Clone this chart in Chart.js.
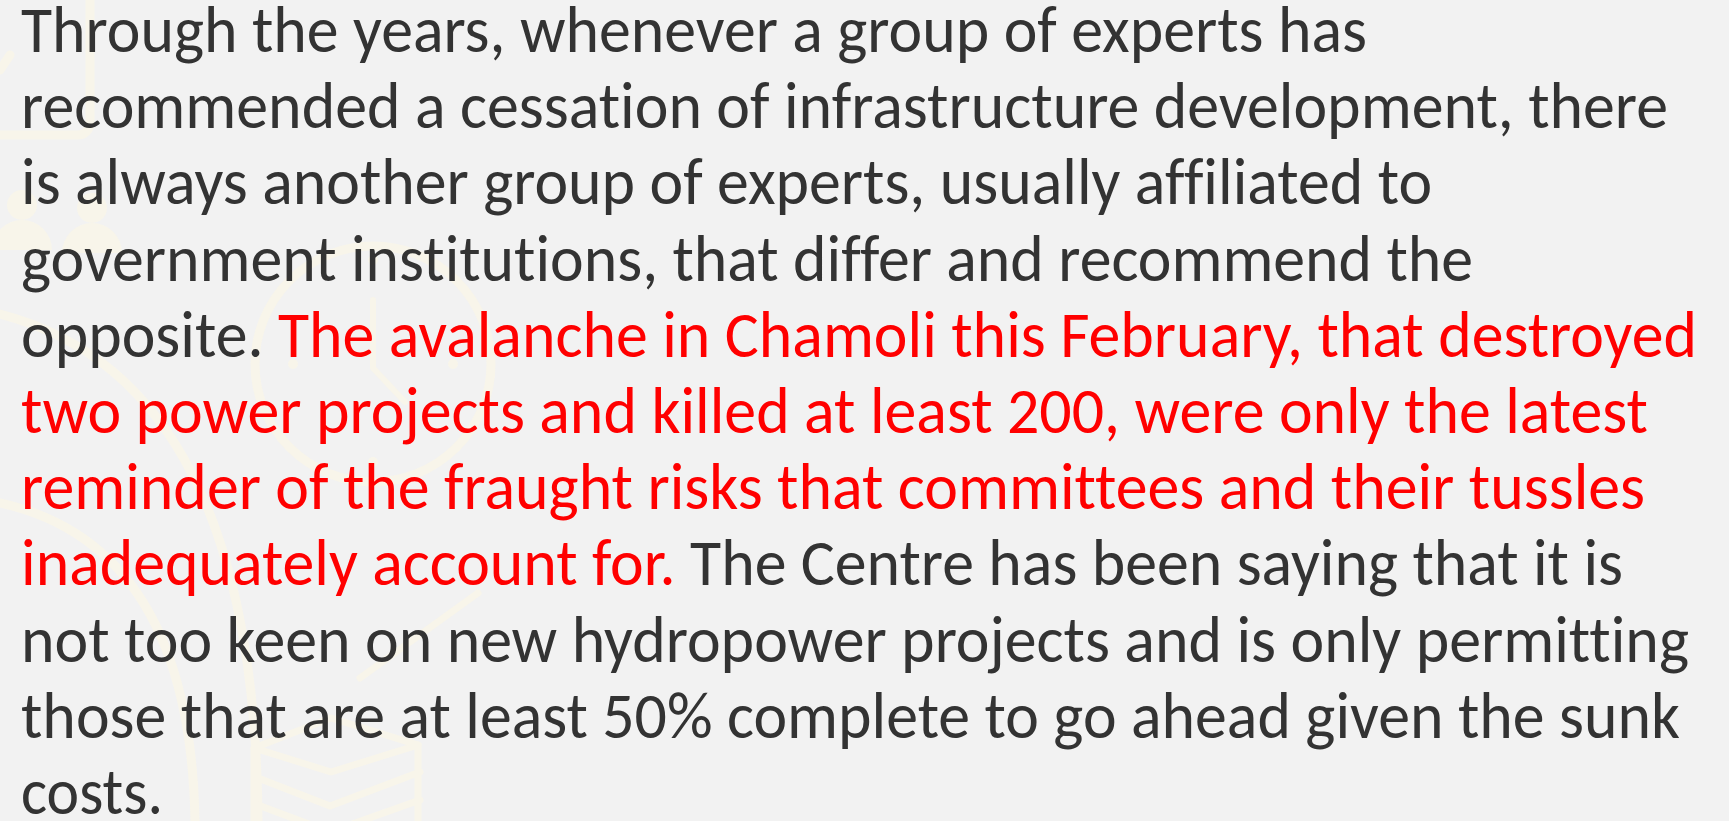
<!DOCTYPE html>
<html lang="en">
<head>
<meta charset="UTF-8">
<title>Hydropower committees slide</title>
<script src="https://cdn.jsdelivr.net/npm/chart.js"></script>
<style>
  html, body { margin:0; padding:0; background:#f2f2f2; overflow:hidden; }
  #bg { position:absolute; left:0; top:0; }
  #slide { position:absolute; left:0; top:0; width:1729px; height:821px; }
  .ln { position:absolute; left:0; white-space:pre; transform-origin:0 0; color:#333333; }
  .ln, .ln span { font-variant-ligatures:none; font-feature-settings:"liga" 0, "clig" 0, "dlig" 0; }
  .red { color:#ff0000; }
</style>
</head>
<body>
<canvas id="bg" width="1729" height="821"></canvas>
<div id="slide"></div>

<script>
// slide text, one entry per visual line: [text, isRed]
const lineSegments = [
  [["Through the years, whenever a group of experts has", false]],
  [["recommended a cessation of infrastructure development, there", false]],
  [["is always another group of experts, usually affiliated to", false]],
  [["government institutions, that differ and recommend the", false]],
  [["opposite. ", false], ["The avalanche in Chamoli this February, that destroyed", true]],
  [["two power projects and killed at least 200, were only the latest", true]],
  [["reminder of the fraught risks that committees and their tussles", true]],
  [["inadequately account for.", true], [" The Centre has been saying that it is", false]],
  [["not too keen on new hydropower projects and is only permitting", false]],
  [["those that are at least 50% complete to go ahead given the sunk", false]],
  [["costs.", false]]
];
// right edge of every line
const lineEnds = [1367, 1668, 1432, 1473, 1697, 1648, 1645, 1623, 1689, 1680, 163];

const leftX = 21, firstBaseline = 52, lineGap = 76.2;

function hasFont(name){
  const c = document.createElement('canvas').getContext('2d');
  c.font = '40px monospace';
  const a = c.measureText('recommended abc').width;
  c.font = '40px "' + name + '", monospace';
  return c.measureText('recommended abc').width !== a;
}
const carlito = hasFont('Carlito');
const fontFamily = carlito ? 'Carlito' : '"Open Sans"';
const fontSize = carlito ? 65 : 58;

// background: empty chart with faint watermark icons
const watermark = {
  id: 'watermark',
  beforeDraw(chart){
    const ctx = chart.ctx;
    ctx.save();
    ctx.fillStyle = '#f2f2f2';
    ctx.fillRect(0, 0, chart.width, chart.height);
    ctx.strokeStyle = '#f8f5ea';
    ctx.fillStyle = '#f8f5ea';
    ctx.lineWidth = 9; ctx.lineCap = 'round'; ctx.lineJoin = 'round';

    // tablet, top left
    ctx.beginPath(); ctx.roundRect(-40, -40, 130, 175, 12); ctx.stroke();
    ctx.beginPath(); ctx.moveTo(0, 70); ctx.lineTo(10, 55); ctx.stroke();

    // people
    [[22, 205], [92, 208]].forEach(([x, y]) => {
      ctx.beginPath(); ctx.arc(x, y, 15, 0, Math.PI*2); ctx.fill();
      ctx.beginPath(); ctx.arc(x, y + 45, 30, Math.PI, 0); ctx.fill();
    });

    // clock
    ctx.beginPath(); ctx.arc(373, 364, 118, 0, Math.PI*2); ctx.stroke();
    ctx.lineWidth = 6;
    ctx.beginPath(); ctx.moveTo(373, 300); ctx.lineTo(373, 368); ctx.lineTo(405, 402); ctx.stroke();
    [[373, 260], [373, 462], [293, 364], [453, 364]].forEach(([x, y]) => {
      ctx.beginPath(); ctx.arc(x, y, 5, 0, Math.PI*2); ctx.fill();
    });

    // sweeping arcs
    ctx.lineWidth = 9;
    ctx.beginPath(); ctx.moveTo(0, 314); ctx.quadraticCurveTo(255, 380, 258, 821); ctx.stroke();
    ctx.beginPath(); ctx.moveTo(0, 503); ctx.quadraticCurveTo(190, 545, 195, 821); ctx.stroke();

    // books, bottom
    ctx.lineWidth = 7;
    ctx.beginPath();
    ctx.moveTo(254, 748); ctx.lineTo(331, 718); ctx.lineTo(418, 745); ctx.lineTo(331, 772); ctx.closePath();
    ctx.stroke();
    ctx.beginPath(); ctx.moveTo(258, 778); ctx.lineTo(330, 806); ctx.lineTo(420, 772); ctx.stroke();
    ctx.beginPath(); ctx.moveTo(258, 805); ctx.lineTo(330, 832); ctx.lineTo(420, 800); ctx.stroke();
    ctx.beginPath(); ctx.moveTo(254, 748); ctx.lineTo(254, 821); ctx.stroke();
    ctx.beginPath(); ctx.moveTo(418, 745); ctx.lineTo(418, 821); ctx.stroke();
    ctx.beginPath(); ctx.moveTo(360, 678); ctx.lineTo(478, 593); ctx.stroke();
    ctx.restore();
  }
};

new Chart(document.getElementById('bg'), {
  type: 'scatter',
  data: { datasets: [] },
  options: {
    responsive: false,
    animation: false,
    devicePixelRatio: 1,
    layout: { padding: 0 },
    plugins: { legend: { display: false }, tooltip: { enabled: false } },
    scales: { x: { display: false }, y: { display: false } }
  },
  plugins: [watermark]
});

function layout(){
  const slide = document.getElementById('slide');
  slide.innerHTML = '';
  lineSegments.forEach((segs, i) => {
    const div = document.createElement('div');
    div.className = 'ln';
    div.style.fontFamily = fontFamily;
    div.style.fontSize = fontSize + 'px';
    div.style.fontVariantLigatures = 'none';
    const txt = document.createElement('span');
    segs.forEach(([t, red]) => {
      const s = document.createElement('span');
      s.textContent = t;
      if (red) s.className = 'red';
      txt.appendChild(s);
    });
    const mark = document.createElement('span');
    mark.style.cssText = 'display:inline-block;width:0;height:0;';
    div.appendChild(txt);
    div.appendChild(mark);
    slide.appendChild(div);

    const off = mark.getBoundingClientRect().top - div.getBoundingClientRect().top;
    const w = txt.getBoundingClientRect().width;
    const sx = (lineEnds[i] - leftX) / w;
    div.style.top = (firstBaseline + i * lineGap - off) + 'px';
    div.style.left = leftX + 'px';
    div.style.transform = 'scaleX(' + sx.toFixed(4) + ')';
  });
}
layout();
if (document.fonts && document.fonts.ready) document.fonts.ready.then(layout);
</script>
</body>
</html>
